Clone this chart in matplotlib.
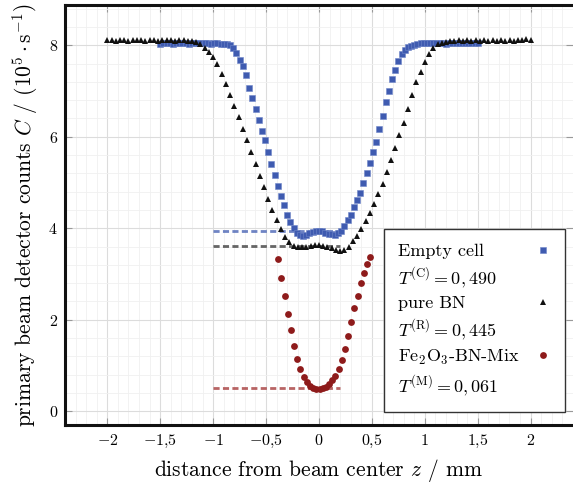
import matplotlib
matplotlib.use("Agg")
import matplotlib.pyplot as plt
from matplotlib.lines import Line2D
from matplotlib.ticker import MultipleLocator, FixedLocator, FixedFormatter
import numpy as np

plt.rcParams['font.family'] = ['cmr10', 'DejaVu Serif']
plt.rcParams['mathtext.fontset'] = 'cm'
plt.rcParams['axes.unicode_minus'] = False
plt.rcParams['axes.formatter.use_mathtext'] = True

# ---------------- data ----------------
# Empty cell (blue squares), z step 0.03 mm from -1.5 to 1.5
z_empty = np.round(np.linspace(-1.5, 1.5, 101), 3)
c_empty = [
    8.03, 8.05, 8.04, 8.04, 8.03, 8.04, 8.05, 8.04, 8.04, 8.03, 8.04,
    8.04, 8.05, 8.04, 8.04, 8.04, 8.03, 8.04, 8.04, 8.03, 8.03, 8.02,
    8.00, 7.95, 7.84, 7.68, 7.55, 7.34, 7.07, 6.85, 6.61, 6.37, 6.13,
    5.93, 5.67, 5.41, 5.17, 4.93, 4.71, 4.50, 4.30, 4.13, 4.00, 3.90,
    3.85, 3.83, 3.86, 3.89, 3.92, 3.94, 3.95, 3.93, 3.90, 3.88, 3.87,
    3.86, 3.89, 3.95, 4.05, 4.18, 4.30, 4.46, 4.62, 4.78, 4.98,
    5.20, 5.42, 5.66, 5.89, 6.17, 6.45, 6.75, 7.00, 7.26, 7.47, 7.65,
    7.80, 7.90, 7.96, 7.99, 8.01,
    8.03, 8.04, 8.05, 8.04, 8.05, 8.06, 8.05, 8.04, 8.04, 8.03, 8.04,
    8.05, 8.05, 8.04, 8.05, 8.06, 8.05, 8.05, 8.06, 8.05,
]

# pure BN (black triangles), z step 0.04 mm from -2 to 2
z_bn = np.round(np.linspace(-2.0, 2.0, 101), 3)
c_bn = [
    8.11, 8.12, 8.10, 8.11, 8.12, 8.10, 8.11, 8.11, 8.12, 8.10, 8.11, 8.12,
    8.10, 8.11, 8.12, 8.11, 8.10, 8.11, 8.12, 8.10, 8.09, 8.07, 8.02,
    7.95, 7.86, 7.74, 7.58, 7.38, 7.15, 6.92, 6.68, 6.43, 6.18, 5.93,
    5.67, 5.40, 5.15, 4.90, 4.64, 4.41, 4.18, 3.99, 3.82, 3.70, 3.62,
    3.58, 3.58, 3.60, 3.62, 3.63, 3.63, 3.62, 3.60, 3.57, 3.53, 3.50,
    3.52, 3.60, 3.72, 3.84, 3.99, 4.16, 4.34, 4.53, 4.74, 4.97, 5.22,
    5.49, 5.76, 6.04, 6.31, 6.61, 6.92, 7.20, 7.42, 7.64, 7.81, 7.93,
    8.02,
    8.06, 8.08, 8.10, 8.09, 8.11, 8.10, 8.12, 8.09, 8.11, 8.10, 8.12,
    8.09, 8.11, 8.10, 8.12, 8.10, 8.11, 8.09, 8.12, 8.11, 8.13, 8.11,
]

# Fe2O3-BN-Mix (red circles), z step 0.03 mm
z_mix = [-0.385, -0.355, -0.325, -0.295, -0.265, -0.235, -0.205, -0.175,
         -0.145, -0.115, -0.085, -0.055, -0.025, 0.005, 0.035, 0.065,
         0.095, 0.125, 0.155, 0.185, 0.215, 0.245, 0.275, 0.305, 0.335,
         0.365, 0.395, 0.425, 0.455, 0.485]
c_mix = [3.33, 2.91, 2.51, 2.12, 1.77, 1.43, 1.15, 0.92, 0.75, 0.63,
         0.55, 0.51, 0.49, 0.48, 0.50, 0.54, 0.60, 0.68, 0.78, 0.93,
         1.11, 1.36, 1.64, 1.95, 2.25, 2.53, 2.80, 3.03, 3.22, 3.37]

# reference levels (dashed lines)
level_z = [-1.0, 0.2]
level_empty = 3.94
level_bn = 3.62
level_mix = 0.50

labels = ["Empty cell", r"$T^{(\mathrm{C})} = 0,490$",
          "pure BN", r"$T^{(\mathrm{R})} = 0,445$",
          r"Fe$_2$O$_3$-BN-Mix", r"$T^{(\mathrm{M})} = 0,061$"]

xticks = [-2, -1.5, -1, -0.5, 0, 0.5, 1, 1.5, 2]
xticklabels = [r"$-2$", r"$-1{,}5$", r"$-1$", r"$-0{,}5$", r"$0$",
               r"$0{,}5$", r"$1$", r"$1{,}5$", r"$2$"]
yticks = [0, 2, 4, 6, 8]
yticklabels = [r"$0$", r"$2$", r"$4$", r"$6$", r"$8$"]

# ---------------- style ----------------
col_blue = "#3F5BB0"
col_black = "#111111"
col_red = "#8E1B1B"

fig = plt.figure(figsize=(5.73, 4.83), dpi=100)
ax = fig.add_axes([65 / 573, 1 - 425 / 483, (573 - 65) / 573, (425 - 5) / 483])

ax.set_xlim(-2.4, 2.4)
ax.set_ylim(-0.3, 8.88)

# grid
ax.xaxis.set_major_locator(FixedLocator(xticks))
ax.xaxis.set_major_formatter(FixedFormatter(xticklabels))
ax.yaxis.set_major_locator(FixedLocator(yticks))
ax.yaxis.set_major_formatter(FixedFormatter(yticklabels))
ax.xaxis.set_minor_locator(MultipleLocator(0.1))
ax.yaxis.set_minor_locator(MultipleLocator(0.4))
ax.grid(which='major', color='#dcdcdc', linewidth=0.8, zorder=0)
ax.grid(which='minor', color='#f0f0f0', linewidth=0.6, zorder=0)
ax.set_axisbelow(True)

ax.tick_params(which='major', direction='in', length=5, width=0.8,
               color='#999999', top=True, right=True, labelsize=11.5)
ax.tick_params(axis='x', pad=6)
ax.tick_params(axis='y', pad=5)
ax.tick_params(which='minor', length=0)

for side in ['left', 'bottom', 'top']:
    ax.spines[side].set_linewidth(2.2)
    ax.spines[side].set_color('#111111')
ax.spines['right'].set_visible(False)

# dashed levels
dash = dict(linewidth=2.0, dashes=(2.2, 1.2), alpha=0.75, zorder=2)
ax.plot(level_z, [level_empty] * 2, color=col_blue, **dash)
ax.plot(level_z, [level_bn] * 2, color='#333333', **dash)
ax.plot(level_z, [level_mix] * 2, color='#A03030', **dash)

# data
h1, = ax.plot(z_empty, c_empty, linestyle='none', marker='s', markersize=4.4,
              color=col_blue, markeredgewidth=0.4, markeredgecolor='#6f86c8', zorder=3)
h2, = ax.plot(z_bn, c_bn, linestyle='none', marker='^', markersize=4.8,
              color=col_black, markeredgewidth=0, zorder=4)
h3, = ax.plot(z_mix, c_mix, linestyle='none', marker='o', markersize=4.9,
              color=col_red, markeredgewidth=0, zorder=4)

blank = Line2D([], [], linestyle='none', marker=None)
leg = ax.legend([h1, blank, h2, blank, h3, blank], labels,
                loc='lower right', bbox_to_anchor=(0.984, 0.031),
                markerfirst=False, frameon=True, fancybox=False,
                edgecolor='#333333', framealpha=1, fontsize=13,
                handlelength=0.8, handletextpad=0.9, borderpad=0.8,
                labelspacing=0.32, borderaxespad=0)
leg.get_frame().set_linewidth(1.0)

ax.set_xlabel(r"distance from beam center $z$ / mm", fontsize=15.5, labelpad=5)
ax.set_ylabel(r"primary beam detector counts $C$ / $(10^5\cdot\mathrm{s}^{-1})$",
              fontsize=15.5, labelpad=6)

# left-align legend labels while keeping the markers in a right-hand column
fig.canvas.draw()
renderer = fig.canvas.get_renderer()
for col in leg._legend_handle_box.get_children():
    entries = col.get_children()
    wmax = max(e.get_bbox(renderer).width for e in entries)
    for e in entries:
        e.mode = 'expand'
        e.width = wmax

fig.savefig("out.png", dpi=100)
